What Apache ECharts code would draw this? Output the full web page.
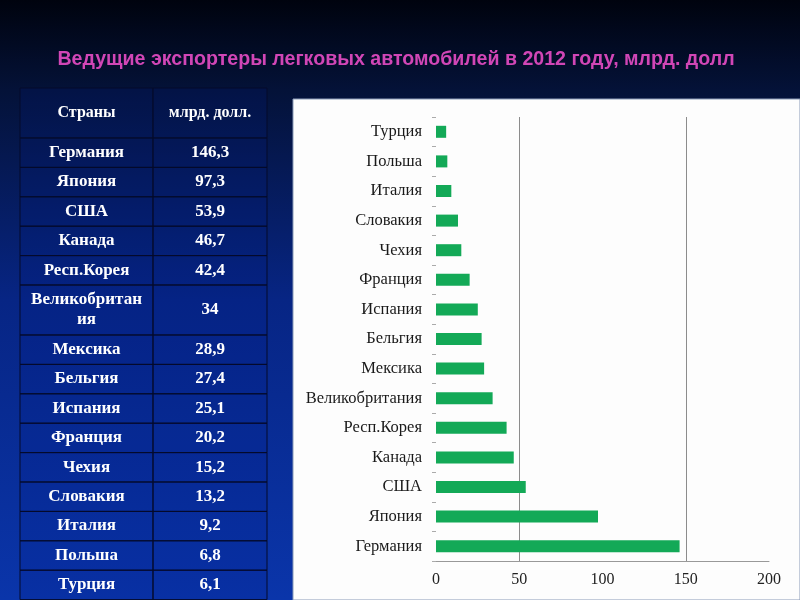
<!DOCTYPE html>
<html><head><meta charset="utf-8">
<script src="https://cdn.jsdelivr.net/npm/echarts@6/dist/echarts.min.js"></script>
<style>html,body{margin:0;padding:0;background:#000}#c{width:800px;height:600px}</style>
</head><body><div id="c"></div>
<script>
const titleText = 'Ведущие экспортеры легковых автомобилей в 2012 году, млрд. долл';
const countries = ['Германия','Япония','США','Канада','Респ.Корея','Великобритания','Мексика','Бельгия','Испания','Франция','Чехия','Словакия','Италия','Польша','Турция'];
const values = [146.3,97.3,53.9,46.7,42.4,34,28.9,27.4,25.1,20.2,15.2,13.2,9.2,6.8,6.1];
const tableHeaders = ['Страны','млрд. долл.'];
const xMin = 0, xMax = 200, xStep = 50;

const fmt = v => String(v).replace('.', ',');
const wrapName = c => c.length > 12 ? c.slice(0, 12) + '\n' + c.slice(12) : c;
const chart = echarts.init(document.getElementById('c'));

// table
const T = {x0: 20, x1: 153, x2: 267, top: 88, head: 50, row: 29.4, dbl: 50};
const rows = [{a: tableHeaders[0], b: tableHeaders[1], h: T.head, head: true}]
  .concat(countries.map((c, i) => ({a: wrapName(c), b: fmt(values[i]), h: c.length > 12 ? T.dbl : T.row})));
const els = [];
els.push({type: 'rect', z: -10, shape: {x: 293, y: 99, width: 507, height: 501},
  style: {fill: '#fdfdfd', stroke: '#8a9bb8', lineWidth: 1}});
els.push({type: 'text', x: 396, y: 60,
  style: {text: titleText, font: 'bold 19.6px "Liberation Sans", sans-serif', fill: '#d146b6', align: 'center', verticalAlign: 'middle'}});
let y = T.top;
rows.forEach(r => {
  els.push({type: 'rect', shape: {x: T.x0, y: y, width: T.x1 - T.x0, height: r.h},
    style: {fill: 'rgba(0,30,140,0.18)', stroke: '#050a2a', lineWidth: 1}});
  els.push({type: 'rect', shape: {x: T.x1, y: y, width: T.x2 - T.x1, height: r.h},
    style: {fill: 'rgba(0,30,140,0.18)', stroke: '#050a2a', lineWidth: 1}});
  const font = r.head ? 'bold 16px "Liberation Serif"' : 'bold 17px "Liberation Serif"';
  els.push({type: 'text', x: (T.x0 + T.x1) / 2, y: y + r.h / 2,
    style: {text: r.a, font: font, fill: '#ffffff', align: 'center', verticalAlign: 'middle', lineHeight: 20}});
  els.push({type: 'text', x: (T.x1 + T.x2) / 2, y: y + r.h / 2,
    style: {text: r.b, font: font, fill: '#ffffff', align: 'center', verticalAlign: 'middle'}});
  y += r.h;
});

chart.setOption({
  animation: false,
  backgroundColor: {type: 'linear', x: 0, y: 0, x2: 0, y2: 1, colorStops: [
    {offset: 0, color: '#00030e'}, {offset: 0.15, color: '#041238'}, {offset: 0.5, color: '#072584'}, {offset: 1, color: '#0a35aa'}]},
  graphic: {elements: els},
  grid: {left: 436, top: 117, width: 333, height: 444, containLabel: false},
  xAxis: {type: 'value', min: xMin, max: xMax, interval: xStep,
    axisLine: {show: true, lineStyle: {color: '#999', width: 1}},
    axisTick: {show: false},
    axisLabel: {color: '#222', fontSize: 16, fontFamily: '"Liberation Serif", serif', margin: 11},
    splitLine: {show: true, showMinLine: true, lineStyle: {color: ['rgba(0,0,0,0)', '#8c8c8c', 'rgba(0,0,0,0)', '#8c8c8c', 'rgba(0,0,0,0)'], width: 1}}},
  yAxis: {type: 'category', data: countries,
    axisLine: {show: false},
    axisTick: {show: true, length: 4, lineStyle: {color: '#aaa'}},
    axisLabel: {color: '#1a1a1a', fontSize: 16.5, fontFamily: '"Liberation Serif", serif', margin: 14},
    splitLine: {show: false}},
  series: [{type: 'bar', data: values, barWidth: 12, itemStyle: {color: '#13a957'}}]
});
</script></body></html>
